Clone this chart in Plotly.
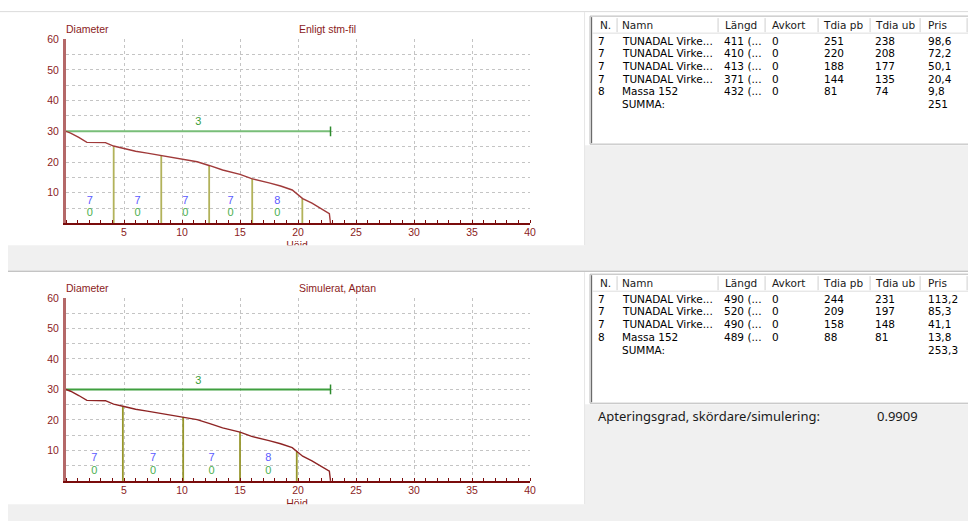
import numpy as np
import plotly.graph_objects as go

# Figure size in CSS pixels; the photographed page region is mapped with a slight
# scale/offset, so reference-pixel positions are converted below.
FIG_W, FIG_H = 976, 521
SX, SY, OY = 0.99375, 0.98824, 5.95


def px(x):
    return (x / SX) / FIG_W


def py(y):
    return 1 - (y / SY - OY) / FIG_H


# ---------------- data ----------------
hojd = [0, 0.4, 1.1, 1.8, 3.4, 4.1, 5.0, 6.0, 7.0, 8.2, 9.5, 10.1, 11.3, 12.4,
        13.5, 15.0, 16.0, 17.5, 18.5, 19.5, 20.4, 21.2, 22.0, 22.7, 22.8]
diameter = [30, 29.4, 28.0, 26.4, 26.3, 25.2, 24.4, 23.5, 22.9, 22.1, 21.3, 21.0,
            20.1, 18.8, 17.4, 16.0, 14.6, 13.2, 12.2, 10.9, 8.1, 6.6, 4.9, 3.2, 0]
limit_diam = 30
limit_label = "3"

x_ticks = [5, 10, 15, 20, 25, 30, 35, 40]
y_ticks = [10, 20, 30, 40, 50, 60]

columns = ["N.", "Namn", "Längd", "Avkort", "Tdia pb", "Tdia ub", "Pris"]

top_title = "Enligt stm-fil"
top_n = [7, 7, 7, 7, 8]
top_namn = ["TUNADAL Virke...", "TUNADAL Virke...", "TUNADAL Virke...",
            "TUNADAL Virke...", "Massa 152"]
top_langd = [411, 410, 413, 371, 432]
top_avkort = [0, 0, 0, 0, 0]
top_tdia_pb = [251, 220, 188, 144, 81]
top_tdia_ub = [238, 208, 177, 135, 74]
top_pris = ["98,6", "72,2", "50,1", "20,4", "9,8"]
top_summa = "251"

bot_title = "Simulerat, Aptan"
bot_n = [7, 7, 7, 8]
bot_namn = ["TUNADAL Virke...", "TUNADAL Virke...", "TUNADAL Virke...", "Massa 152"]
bot_langd = [490, 520, 490, 489]
bot_avkort = [0, 0, 0, 0]
bot_tdia_pb = [244, 209, 158, 88]
bot_tdia_ub = [231, 197, 148, 81]
bot_pris = ["113,2", "85,3", "41,1", "13,8"]
bot_summa = "253,3"

apt_label = "Apteringsgrad, skördare/simulering:"
apt_value = "0.9909"

# ---------------- styling ----------------
MAROON = "#8b1c1c"
GRID = "#c4c4c4"
CHART_FONT = "Liberation Sans, Arial, sans-serif"
TABLE_FONT = "DejaVu Sans, Verdana, sans-serif"
APT_FONT = "Noto Sans, Segoe UI, sans-serif"
GRAY_BG = "#f0f0f0"

fig = go.Figure()
shapes = []
annotations = []


def rect(x0, y0, x1, y1, fill, line=None, lw=0):
    shapes.append(dict(type="rect", xref="paper", yref="paper", layer="below",
                       x0=px(x0), x1=px(x1), y0=py(y1), y1=py(y0),
                       fillcolor=fill,
                       line=dict(color=line or "rgba(0,0,0,0)", width=lw)))


def hline(x0, x1, y, color, w=1):
    shapes.append(dict(type="line", xref="paper", yref="paper", layer="below",
                       x0=px(x0), x1=px(x1), y0=py(y), y1=py(y),
                       line=dict(color=color, width=w)))


def vline(x, y0, y1, color, w=1):
    shapes.append(dict(type="line", xref="paper", yref="paper", layer="below",
                       x0=px(x), x1=px(x), y0=py(y0), y1=py(y1),
                       line=dict(color=color, width=w)))


def text(x, y, s, size, color, family, xanchor="left", yanchor="middle"):
    annotations.append(dict(xref="paper", yref="paper", x=px(x), y=py(y), text=s,
                            showarrow=False, xanchor=xanchor, yanchor=yanchor,
                            borderpad=0, borderwidth=0,
                            font=dict(size=size, color=color, family=family)))


# ---------------- background ----------------
hline(0, 968, 11.5, "#dcdcdc")
rect(8, 245, 585, 270, GRAY_BG)
rect(585, 145, 970, 270, GRAY_BG)
hline(8, 970, 271, "#a8a8a8")
rect(8, 504, 585, 523, GRAY_BG)
rect(585, 404, 970, 523, GRAY_BG)
vline(584.5, 12, 245, "#e6e6e6")
vline(584.5, 272, 504, "#e6e6e6")

# ---------------- charts ----------------
panels = [
    dict(title=top_title, ytop=39.0, ybot=223.3, n=top_n, langd=top_langd,
         avkort=top_avkort, xa="x", ya="y", green="#78be78", gtick="#2e8b2e",
         cut="#b2b25a", curve="#a03a3a"),
    dict(title=bot_title, ytop=297.7, ybot=480.7, n=bot_n, langd=bot_langd,
         avkort=bot_avkort, xa="x2", ya="y2", green="#3f9f3f", gtick="#2e8b2e",
         cut="#96962c", curve="#8e2424"),
]

X0, X1 = 66.0, 530.0
stem_len = hojd[-1]

for i, p in enumerate(panels):
    xa, ya = p["xa"], p["ya"]
    cuts = np.cumsum(p["langd"]) / 100.0
    starts = np.concatenate([[0.0], cuts[:-1]])
    mids = (starts + cuts) / 2
    cut_d = np.interp(cuts, hojd, diameter)

    fig.add_trace(go.Scatter(x=[0, stem_len], y=[limit_diam, limit_diam], mode="lines",
                             line=dict(color=p["green"], width=2), xaxis=xa, yaxis=ya,
                             hoverinfo="skip", showlegend=False))
    fig.add_trace(go.Scatter(x=[stem_len], y=[limit_diam], mode="markers",
                             marker=dict(symbol="line-ns", size=7,
                                         line=dict(color=p["gtick"], width=1.5)),
                             xaxis=xa, yaxis=ya, hoverinfo="skip", showlegend=False))
    fig.add_trace(go.Scatter(x=[stem_len / 2], y=[limit_diam + 2.8], mode="text",
                             text=[limit_label], textposition="middle center",
                             textfont=dict(size=11, color="#3aa03a", family=CHART_FONT),
                             xaxis=xa, yaxis=ya, hoverinfo="skip", showlegend=False,
                             cliponaxis=False))

    cx, cy = [], []
    for c, d in zip(cuts, cut_d):
        cx += [c, c, None]
        cy += [0, d, None]
    fig.add_trace(go.Scatter(x=cx, y=cy, mode="lines",
                             line=dict(color=p["cut"], width=1.8),
                             xaxis=xa, yaxis=ya, hoverinfo="skip", showlegend=False))

    fig.add_trace(go.Scatter(x=hojd, y=diameter, mode="lines",
                             line=dict(color=p["curve"], width=1.4),
                             xaxis=xa, yaxis=ya, hoverinfo="skip", showlegend=False))

    fig.add_trace(go.Scatter(x=mids, y=[7.3] * len(mids), mode="text",
                             text=[str(v) for v in p["n"]],
                             textfont=dict(size=11, color="#5a5aff", family=CHART_FONT),
                             xaxis=xa, yaxis=ya, hoverinfo="skip", showlegend=False,
                             cliponaxis=False))
    fig.add_trace(go.Scatter(x=mids, y=[3.2] * len(mids), mode="text",
                             text=[str(v) for v in p["avkort"]],
                             textfont=dict(size=11, color="#4caf50", family=CHART_FONT),
                             xaxis=xa, yaxis=ya, hoverinfo="skip", showlegend=False,
                             cliponaxis=False))

    yd = [py(p["ybot"]), py(p["ytop"])]
    xkey = "xaxis" if i == 0 else "xaxis2"
    ykey = "yaxis" if i == 0 else "yaxis2"
    fig.layout[xkey] = dict(
        domain=[px(X0), px(X1)], range=[0, 40], anchor=ya,
        tickmode="array", tickvals=x_ticks, ticktext=[str(v) for v in x_ticks],
        showgrid=True, gridcolor=GRID, griddash="3px,3px", gridwidth=1,
        showline=True, linecolor="#7a0c0c", linewidth=2, zeroline=False,
        ticks="", tickfont=dict(size=10.5, color=MAROON, family=CHART_FONT),
        ticklabelstandoff=-2,
        minor=dict(tickmode="linear", tick0=0, dtick=1, ticks="inside", ticklen=3,
                   tickcolor="#7a0c0c", tickwidth=1, showgrid=False),
        fixedrange=True)
    fig.layout[ykey] = dict(
        domain=yd, range=[0, 60], anchor=xa,
        tickmode="array", tickvals=y_ticks, ticktext=[str(v) for v in y_ticks],
        showgrid=True, gridcolor=GRID, griddash="3px,3px", gridwidth=1,
        showline=True, linecolor="#b46868", linewidth=3, zeroline=False,
        ticks="", tickfont=dict(size=10.5, color=MAROON, family=CHART_FONT),
        ticklabelstandoff=2,
        minor=dict(tickmode="linear", tick0=0, dtick=5, showgrid=True, gridcolor=GRID,
                   griddash="3px,3px", gridwidth=1, ticks=""),
        fixedrange=True)

    ytitle = p["ytop"] - 9.7
    text(X0, ytitle, "Diameter", 10.5, MAROON, CHART_FONT)
    text(327.5 + (9.5 if i == 1 else 0), ytitle, p["title"], 10.5, MAROON, CHART_FONT,
         xanchor="center")

    # "Höjd" axis title, clipped by the panel edge (hidden overlay axes, pixel units)
    clip_top, clip_bot = p["ybot"] + 16, p["ybot"] + (21.7 if i == 0 else 23.3)
    cxk = "xaxis3" if i == 0 else "xaxis4"
    cyk = "yaxis3" if i == 0 else "yaxis4"
    cxa = "x3" if i == 0 else "x4"
    cya = "y3" if i == 0 else "y4"
    fig.layout[cxk] = dict(domain=[px(8), px(585)], range=[8, 585], visible=False,
                           anchor=cya, fixedrange=True)
    fig.layout[cyk] = dict(domain=[py(clip_bot), py(clip_top)], range=[clip_bot, clip_top],
                           visible=False, anchor=cxa, fixedrange=True)
    fig.add_trace(go.Scatter(x=[297], y=[p["ybot"] + 23.0], mode="text", text=["Höjd"],
                             textposition="middle center",
                             textfont=dict(size=10.5, color=MAROON, family=CHART_FONT),
                             xaxis=cxa, yaxis=cya, cliponaxis=True,
                             hoverinfo="skip", showlegend=False))

# ---------------- tables ----------------
div_x = [617, 718, 765, 818, 870, 920, 967]
head_x = [600, 621.5, 725, 771.5, 823, 875, 928]
cell_x = [598, 621.5, 724, 771.5, 824, 875, 928]
ROW_STEP = 12.7
TFS = 10.5

tables = [
    dict(y0=16, y1=144, hb=33, rows=list(zip(top_n, top_namn, top_langd, top_avkort,
                                              top_tdia_pb, top_tdia_ub, top_pris)),
         summa=top_summa),
    dict(y0=274, y1=403, hb=291, rows=list(zip(bot_n, bot_namn, bot_langd, bot_avkort,
                                                bot_tdia_pb, bot_tdia_ub, bot_pris)),
         summa=bot_summa),
]

for t in tables:
    rect(590, t["y0"], 975, t["y1"], "white", "#b4b4b4", 1)
    vline(591.5, t["y0"] + 1, t["y1"] - 1, "#6a6a6a", 1.2)
    hline(592, 970, t["hb"], "#dedede", 1)
    for dx in div_x:
        vline(dx, t["y0"] + 2, t["hb"] - 1, "#cfcfcf", 1)
    hc = (t["y0"] + t["hb"]) / 2 + 0.5
    for cx_, name in zip(head_x, columns):
        text(cx_, hc, name, TFS, "#1a1a1a", TABLE_FONT)
    y = t["hb"] + 7.5
    for r in t["rows"]:
        vals = [str(r[0]), r[1], f"{r[2]} (...", str(r[3]), str(r[4]), str(r[5]), r[6]]
        for cx_, v in zip(cell_x, vals):
            text(cx_, y, v, TFS, "#000000", TABLE_FONT)
        y += ROW_STEP
    text(cell_x[1], y, "SUMMA:", TFS, "#000000", TABLE_FONT)
    text(cell_x[6], y, t["summa"], TFS, "#000000", TABLE_FONT)

text(598, 415.7, apt_label, 13, "#1a1a1a", APT_FONT)
text(877, 415.7, apt_value, 13, "#1a1a1a", APT_FONT)

fig.update_layout(
    width=FIG_W, height=FIG_H, autosize=False,
    margin=dict(l=0, r=0, t=0, b=0),
    paper_bgcolor="white", plot_bgcolor="rgba(0,0,0,0)",
    showlegend=False, shapes=shapes, annotations=annotations,
)

fig.write_html(
    "out.html",
    config={"displayModeBar": False, "staticPlot": True},
    post_script=(
        "document.documentElement.style.margin='0';"
        "document.body.style.margin='0';"
        "document.body.style.overflow='hidden';"
        "var gd=document.getElementById('{plot_id}');"
        "gd.style.position='fixed';gd.style.left='0px';gd.style.top='0px';"
    ),
)
